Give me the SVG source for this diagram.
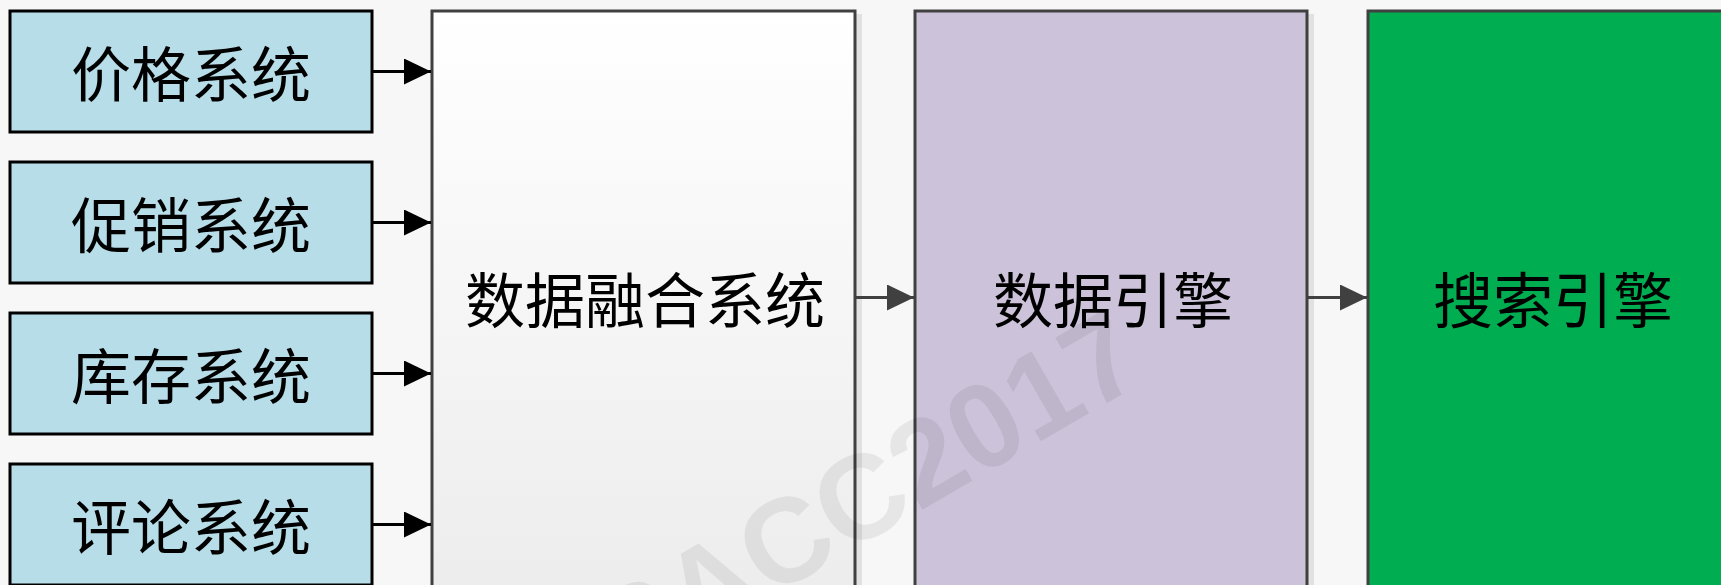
<svg xmlns="http://www.w3.org/2000/svg" width="1721" height="585" viewBox="0 0 1721 585">
  <defs>
    <linearGradient id="gWhite" x1="0" y1="0" x2="0" y2="1">
      <stop offset="0" stop-color="#ffffff"/>
      <stop offset="1" stop-color="#ececec"/>
    </linearGradient>
    <marker id="ahBlack" markerUnits="userSpaceOnUse" markerWidth="28" markerHeight="27" refX="27" refY="13" orient="auto" viewBox="0 0 28 27">
      <path d="M0,0 L27,13 L0,26 z" fill="#000000"/>
    </marker>
    <marker id="ahGray" markerUnits="userSpaceOnUse" markerWidth="28" markerHeight="27" refX="27" refY="13" orient="auto" viewBox="0 0 28 27">
      <path d="M0,0 L27,13 L0,26 z" fill="#404040"/>
    </marker>
  </defs>
  <style>
    .src { fill: #b7dde8; stroke: #000000; stroke-width: 3; }
    .big { stroke: #404040; stroke-width: 3; }
    .shadow { fill: #e1e1e1; }
    .lbl { font-family: "Noto Sans CJK SC", "Noto Sans", sans-serif; font-size: 60px; fill: #000000; text-anchor: middle; dominant-baseline: central; }
    .cb { fill: none; stroke: #000000; stroke-width: 3; marker-end: url(#ahBlack); }
    .cg { fill: none; stroke: #404040; stroke-width: 3; marker-end: url(#ahGray); }
    .wm { font-family: "Liberation Sans", Arial, sans-serif; font-weight: bold; font-size: 120px; fill: #000000; fill-opacity: 0.065; text-anchor: middle; }
  </style>
  <rect x="0" y="0" width="1721" height="585" fill="#f7f7f7"/>

  <g id="node-price">
    <rect class="src" x="10" y="11" width="362" height="121"/>
    <text class="lbl" x="191" y="70">价格系统</text>
  </g>
  <g id="node-promo">
    <rect class="src" x="10" y="162" width="362" height="121"/>
    <text class="lbl" x="191" y="221">促销系统</text>
  </g>
  <g id="node-stock">
    <rect class="src" x="10" y="313" width="362" height="121"/>
    <text class="lbl" x="191" y="372">库存系统</text>
  </g>
  <g id="node-comment">
    <rect class="src" x="10" y="464" width="362" height="121"/>
    <text class="lbl" x="191" y="523">评论系统</text>
  </g>

  <g id="node-fusion">
    <rect class="shadow" x="439" y="14" width="423" height="600"/>
    <rect class="big" x="432" y="11" width="423" height="600" fill="url(#gWhite)"/>
    <text class="lbl" x="645" y="296">数据融合系统</text>
  </g>
  <g id="node-dataengine">
    <rect class="shadow" x="922" y="14" width="392" height="600"/>
    <rect class="big" x="915" y="11" width="392" height="600" fill="#ccc2da"/>
    <text class="lbl" x="1113" y="296">数据引擎</text>
  </g>
  <g id="node-search">
    <rect class="shadow" x="1375" y="14" width="370" height="600"/>
    <rect class="big" x="1368" y="11" width="370" height="600" fill="#00ad50"/>
    <text class="lbl" x="1553" y="296">搜索引擎</text>
  </g>

  <g id="connectors">
    <line class="cb" x1="372" y1="71.5" x2="431" y2="71.5"/>
    <line class="cb" x1="372" y1="222.5" x2="431" y2="222.5"/>
    <line class="cb" x1="372" y1="373.5" x2="431" y2="373.5"/>
    <line class="cb" x1="372" y1="524.5" x2="431" y2="524.5"/>
    <line class="cg" x1="856" y1="297.5" x2="914" y2="297.5"/>
    <line class="cg" x1="1308" y1="297.5" x2="1367" y2="297.5"/>
  </g>

  <text class="wm" transform="translate(887,530) rotate(-30)">SACC2017</text>
</svg>
